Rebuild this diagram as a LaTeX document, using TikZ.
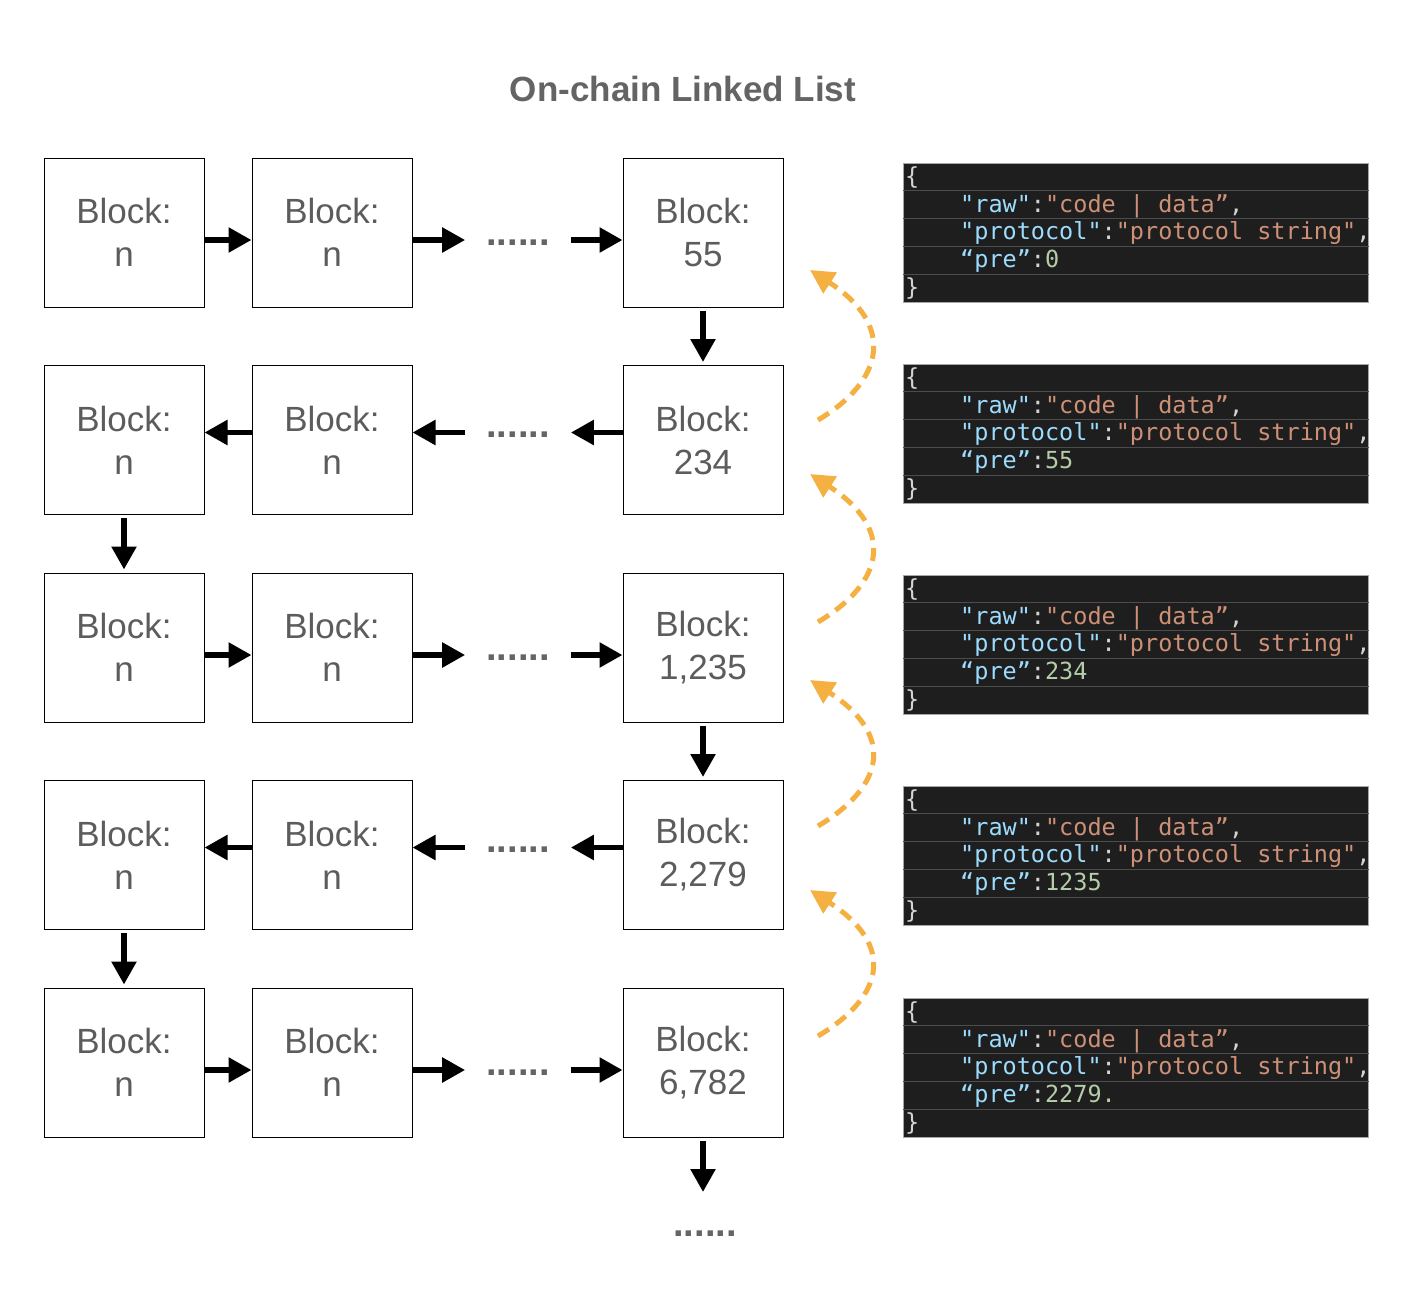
\documentclass[tikz,border=0pt]{standalone}
\usepackage{fontspec}
\setmainfont{Liberation Sans}
\newfontfamily\codefont{DejaVu Sans Mono}
\usepackage{xcolor}
\usepackage{tikz}
\usetikzlibrary{arrows.meta,positioning}

\definecolor{txtgray}{HTML}{5C5C5C}
\definecolor{ttlgray}{HTML}{646464}
\definecolor{linkorange}{HTML}{F5B042}
\definecolor{jback}{HTML}{1E1E1E}
\definecolor{jrule}{HTML}{4C4C4C}
\definecolor{jkey}{HTML}{9CDCFE}
\definecolor{jstr}{HTML}{CE9178}
\definecolor{jnum}{HTML}{B5CEA8}
\definecolor{jpun}{HTML}{D4D4D4}

\tikzset{
  blk/.style={draw, line width=1pt, minimum width=160pt, minimum height=149pt, inner sep=0pt,
    align=center, text=txtgray, font=\fontsize{35}{43}\selectfont},
  dots/.style={inner xsep=21pt, inner ysep=0pt, text=ttlgray, font=\bfseries\fontsize{38}{40}\selectfont},
  arr/.style={line width=5.5pt, -{Triangle[length=23pt,width=24pt]}},
  link/.style={linkorange, line width=5pt, dash pattern=on 13pt off 8pt, -{Triangle[length=24pt,width=24pt]}},
  jbox/.style={fill=jback, draw=gray!70, line width=1pt, minimum width=465pt, minimum height=139pt, inner sep=0pt},
  jline/.style={jrule, line width=1pt},
  jtxt/.style={inner sep=0pt, anchor=base west, font=\codefont\fontsize{23.5}{28}\selectfont}
}

\begin{document}
\begin{tikzpicture}[x=1pt, y=1pt]
\useasboundingbox (0,0) rectangle (1422,-1310);

\node[text=ttlgray, font=\bfseries\fontsize{35}{42}\selectfont] (title) at (683,-89) {On-chain Linked List};

% rows going right
\foreach \r/\y/\num in {1/232.5/55, 3/647.5/{1,235}, 5/1062.5/{6,782}} {
\node[blk] (b\r1) at (124,-\y) {Block:\\n};
\node[blk] (b\r2) at (332,-\y) {Block:\\n};
\node[blk] (b\r3) at (703,-\y) {Block:\\\num};
\node[dots] (d\r) at (518,-\y-10) {......};
\draw[arr] ([yshift=-7.5pt]b\r1.east) -- ([yshift=-7.5pt]b\r2.west);
\draw[arr] ([yshift=-7.5pt]b\r2.east) -- ([yshift=-7.5pt]b\r2.east -| d\r.west);
\draw[arr] ([yshift=-7.5pt]b\r3.west -| d\r.east) -- ([yshift=-7.5pt]b\r3.west);
}

% rows going left
\foreach \r/\y/\num in {2/440/234, 4/855/{2,279}} {
\node[blk] (b\r1) at (124,-\y) {Block:\\n};
\node[blk] (b\r2) at (332,-\y) {Block:\\n};
\node[blk] (b\r3) at (703,-\y) {Block:\\\num};
\node[dots] (d\r) at (518,-\y+5) {......};
\draw[arr] ([yshift=7.5pt]b\r3.west) -- ([yshift=7.5pt]b\r3.west -| d\r.east);
\draw[arr] ([yshift=7.5pt]b\r2.east -| d\r.west) -- ([yshift=7.5pt]b\r2.east);
\draw[arr] ([yshift=7.5pt]b\r2.west) -- ([yshift=7.5pt]b\r1.east);
}

% turns between rows
\draw[arr, shorten <=3pt, shorten >=3pt] (b13) -- (b23);
\draw[arr, shorten <=3pt, shorten >=3pt] (b21) -- (b31);
\draw[arr, shorten <=3pt, shorten >=3pt] (b33) -- (b43);
\draw[arr, shorten <=3pt, shorten >=3pt] (b41) -- (b51);
\coordinate (tail) at (703,-1192);
\draw[arr, shorten <=3pt] (b53) -- (tail);
\node[dots, inner xsep=0pt] (more) at (705,-1234) {......};

% back links
\foreach \k/\a/\b in {1/420/270, 2/622/474, 3/826/680, 4/1036/890} {
\coordinate (s\k) at (818,-\a);
\coordinate (e\k) at (810,-\b);
\draw[link] (s\k) .. controls +(67,40) and +(85,-55) .. (e\k);
}

% json records
\foreach \k/\t/\pre in {1/163/0, 2/364/55, 3/575/234, 4/786/1235, 5/998/{2279.}} {
\node[jbox, anchor=north west] (j\k) at (903,-\t) {};
\foreach \i in {1,...,4}
  \draw[jline] ([yshift=-\i*27.8pt]j\k.north west) -- ([yshift=-\i*27.8pt]j\k.north east);
\node[jtxt] (jo\k) at ([xshift=2pt,yshift=-21.3pt]j\k.north west) {\color{jpun}\{};
\node[jtxt] (jr\k) at ([xshift=57pt,yshift=-49.1pt]j\k.north west)
  {\color{jkey}"raw"\color{jpun}:\color{jstr}"code | data”\color{jpun},};
\node[jtxt] (jp\k) at ([xshift=57pt,yshift=-76.9pt]j\k.north west)
  {\color{jkey}"protocol"\color{jpun}:\color{jstr}"protocol string"\color{jpun},};
\node[jtxt] (jq\k) at ([xshift=57pt,yshift=-104.7pt]j\k.north west)
  {\color{jkey}“pre”\color{jpun}:\color{jnum}\pre};
\node[jtxt] (jc\k) at ([xshift=2pt,yshift=-132.5pt]j\k.north west) {\color{jpun}\}};
}
\end{tikzpicture}
\end{document}
